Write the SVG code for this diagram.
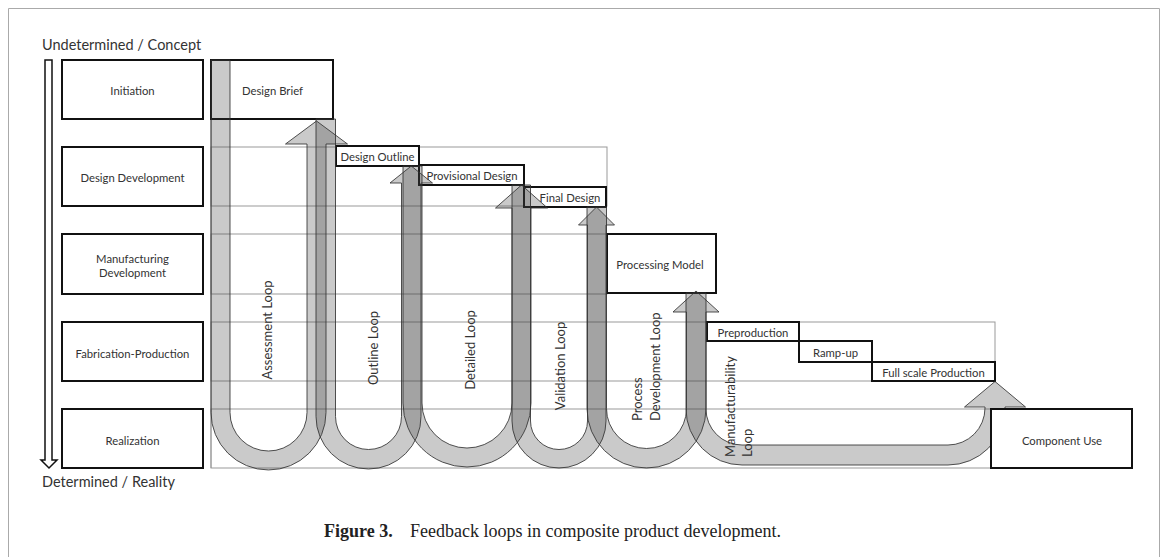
<svg xmlns="http://www.w3.org/2000/svg" width="1167" height="557" viewBox="0 0 1167 557">
<style>
.box{fill:#fff;stroke:#111;stroke-width:2}
.grid{fill:none;stroke:#999;stroke-width:1}
.loop{fill:#3c3c3c;fill-opacity:0.27;stroke:#333;stroke-opacity:0.85;stroke-width:1}
.t{font-family:Lato,"Open Sans","Liberation Sans",sans-serif;fill:#333;font-size:11.3px;text-anchor:middle;dominant-baseline:central}
.lt{font-size:13px}
.st{text-anchor:start}
.hd{font-family:Lato,"Open Sans","Liberation Sans",sans-serif;fill:#333;font-size:14.5px}
.cap{font-family:"Liberation Serif",serif;font-size:18px;fill:#222}
</style>
<rect width="1167" height="557" fill="#fff"/>
<path d="M8.5,557V8.5H1159.5V557" fill="none" stroke="#aaa"/>
<text class="hd" x="42" y="50">Undetermined / Concept</text>
<text class="hd" x="42" y="487">Determined / Reality</text>
<path id="axis" d="M45,60H52V460H57L49,468L41,460H45Z" fill="#fff" stroke="#111" stroke-width="1.5"/>
<g id="grid" class="grid">
<line x1="211" y1="60" x2="211" y2="468"/>
<rect x="211" y="147" width="396" height="59"/>
<rect x="211" y="234" width="396" height="60"/>
<rect x="211" y="322" width="784" height="59"/>
<rect x="211" y="409" width="780" height="59"/>
</g>
<g id="stage-initiation"><rect class="box" x="62" y="60" width="141" height="59"/><text class="t" x="132.5" y="90">Initiation</text></g>
<g id="stage-design"><rect class="box" x="62" y="147" width="141" height="59"/><text class="t" x="132.5" y="177">Design Development</text></g>
<g id="stage-manufacturing"><rect class="box" x="62" y="234" width="141" height="60"/><text class="t" x="132.5" y="258">Manufacturing</text><text class="t" x="132.5" y="272">Development</text></g>
<g id="stage-fabrication"><rect class="box" x="62" y="322" width="141" height="59"/><text class="t" x="132.5" y="353">Fabrication-Production</text></g>
<g id="stage-realization"><rect class="box" x="62" y="409" width="141" height="59"/><text class="t" x="132.5" y="440">Realization</text></g>
<g id="design-brief"><rect class="box" x="211" y="60" width="122" height="59"/><text class="t" x="272.5" y="90">Design Brief</text></g>
<g id="design-outline"><rect class="box" x="336" y="146" width="83" height="20"/><text class="t" x="377.5" y="156.5">Design Outline</text></g>
<g id="provisional-design"><rect class="box" x="419" y="165" width="105" height="20"/><text class="t" x="472" y="175.5">Provisional Design</text></g>
<g id="final-design"><rect class="box" x="524" y="187" width="82" height="20"/><text class="t" x="570" y="197">Final Design</text></g>
<g id="processing-model"><rect class="box" x="607" y="234" width="109" height="59"/><text class="t" x="660" y="264">Processing Model</text></g>
<g id="preproduction"><rect class="box" x="707" y="322" width="92" height="19"/><text class="t" x="753" y="332">Preproduction</text></g>
<g id="ramp-up"><rect class="box" x="799" y="341" width="73" height="21"/><text class="t" x="835.5" y="352">Ramp-up</text></g>
<g id="full-scale"><rect class="box" x="872" y="362" width="123" height="19"/><text class="t" x="933.5" y="372">Full scale Production</text></g>
<g id="connectors">
<g id="assessment-loop"><path class="loop" d="M211,60V412.5A57.5,57.5 0 0 0 326,412.5V144H347.5L316.5,121L285.5,144H307V412.5A38.5,38.5 0 0 1 230,412.5V60Z"/><text class="t lt" transform="translate(267,330) rotate(-90)">Assessment Loop</text></g>
<g id="outline-loop"><path class="loop" d="M316,119V416.5A52.5,52.5 0 0 0 421,416.5V183H432.5L411.25,166L390,183H401.5V416.5A33,33 0 0 1 335.5,416.5V119Z"/><text class="t lt" transform="translate(373,348) rotate(-90)">Outline Loop</text></g>
<g id="detailed-loop"><path class="loop" d="M403,166V403A64,64 0 0 0 531,403V208H547.5L521.5,185L495.5,208H512V403A45,45 0 0 1 422,403V166Z"/><text class="t lt" transform="translate(470,350) rotate(-90)">Detailed Loop</text></g>
<g id="validation-loop"><path class="loop" d="M512,185V421A47,47 0 0 0 606,421V225H614.5L596.5,207L578.5,225H587.5V421A28.5,28.5 0 0 1 530.5,421V185Z"/><text class="t lt" transform="translate(560,366) rotate(-90)">Validation Loop</text></g>
<g id="process-development-loop"><path class="loop" d="M587,207V408.5A59.5,59.5 0 0 0 706,408.5V312H719L696,291L673,312H686.5V408.5A40,40 0 0 1 606.5,408.5V207Z"/><text class="t lt st" transform="translate(637,421) rotate(-90)">Process</text><text class="t lt st" transform="translate(655,421) rotate(-90)">Development Loop</text></g>
<g id="manufacturability-loop"><path class="loop" d="M686,293V409A56,56 0 0 0 742,465H948A57,57 0 0 0 1005,408V407H1025.5L995,381.5L964.5,407H985V408A37,37 0 0 1 948,445H742A36,36 0 0 1 706,409V293Z"/><text class="t lt st" transform="translate(730,457) rotate(-90)">Manufacturability</text><text class="t lt st" transform="translate(747,457) rotate(-90)">Loop</text></g>
</g>
<g id="component-use"><rect class="box" x="991" y="409" width="141" height="59"/><text class="t" x="1062" y="440">Component Use</text></g>
<text class="cap" x="324" y="537"><tspan font-weight="bold">Figure 3.</tspan><tspan x="410">Feedback loops in composite product development.</tspan></text>
</svg>
